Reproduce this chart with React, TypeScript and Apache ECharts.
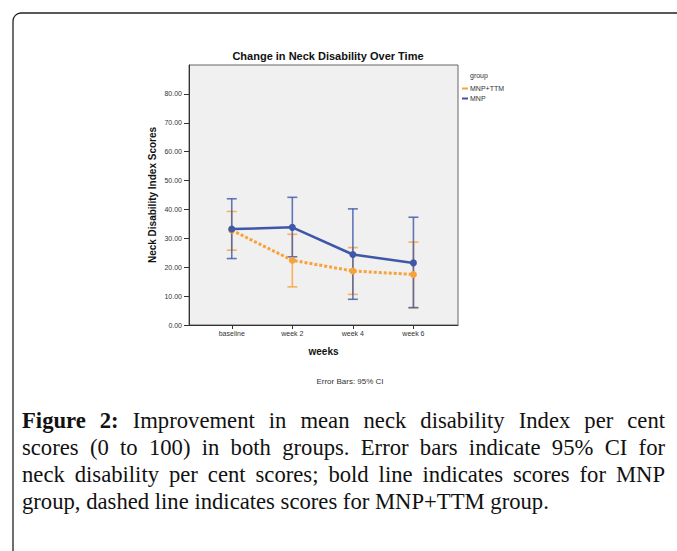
import React, { useEffect, useRef } from "react";
import * as echarts from "echarts";

const categories = ["baseline", "week 2", "week 4", "week 6"];
const yTicks = [0, 10, 20, 30, 40, 50, 60, 70, 80];

const ttmMean = [32.8, 22.4, 18.7, 17.5];
const ttmLow = [25.9, 13.2, 10.6, 6.0];
const ttmHigh = [39.3, 31.4, 26.8, 28.7];

const mnpMean = [33.2, 33.8, 24.4, 21.5];
const mnpLow = [23.0, 23.6, 8.9, 6.0];
const mnpHigh = [43.7, 44.2, 40.2, 37.3];

const captionLines = [
  "Figure 2: Improvement in mean neck disability Index per cent",
  "scores (0 to 100) in both groups. Error bars indicate 95% CI for",
  "neck disability per cent scores; bold line indicates scores for MNP",
  "group, dashed line indicates scores for MNP+TTM group.",
];

const ORANGE = "#f7a23a";
const BLUE = "#3f57a8";
const SERIF = '"Liberation Serif", "Times New Roman", serif';
const SANS = '"Liberation Sans", Arial, sans-serif';

function buildCaption(): any[] {
  const canvas = document.createElement("canvas");
  const ctx = canvas.getContext("2d") as CanvasRenderingContext2D;
  const measure = (t: string, size: number, bold: boolean) => {
    ctx.font = `${bold ? "bold " : ""}${size}px ${SERIF}`;
    return ctx.measureText(t).width;
  };
  const base = 20;
  const w4 = measure(captionLines[3], base, false);
  const size = Math.max(14, Math.min(24, (base * 527) / w4));
  const left = 22;
  const right = 665;
  const ys = [420, 447, 474, 501];
  const out: any[] = [];
  captionLines.forEach((line, li) => {
    const words = line.split(" ");
    const items = words.map((w, wi) => {
      const bold = li === 0 && wi < 2;
      return { w, bold, width: measure(w, size, bold) };
    });
    const sum = items.reduce((a, b) => a + b.width, 0);
    const justify = li < captionLines.length - 1;
    const gap = justify ? (right - left - sum) / (items.length - 1) : measure(" ", size, false);
    let x = left;
    items.forEach((it) => {
      out.push({
        type: "text",
        x,
        y: ys[li],
        silent: true,
        style: {
          text: it.w,
          fill: "#111111",
          font: `${it.bold ? "bold " : ""}${size}px ${SERIF}`,
          textAlign: "left",
          textVerticalAlign: "middle",
        },
      });
      x += it.width + gap;
    });
  });
  return out;
}

function errorBarRender(color: string) {
  return (params: any, api: any) => {
    const x = api.value(0);
    const lo = api.coord([x, api.value(1)]);
    const hi = api.coord([x, api.value(2)]);
    const half = 5;
    const style = { stroke: color, lineWidth: 1.6, opacity: 0.8 };
    return {
      type: "group",
      children: [
        { type: "line", shape: { x1: lo[0], y1: lo[1], x2: hi[0], y2: hi[1] }, style },
        { type: "line", shape: { x1: lo[0] - half, y1: lo[1], x2: lo[0] + half, y2: lo[1] }, style },
        { type: "line", shape: { x1: hi[0] - half, y1: hi[1], x2: hi[0] + half, y2: hi[1] }, style },
      ],
    };
  };
}

export default function App() {
  const ref = useRef<HTMLDivElement>(null);
  useEffect(() => {
    if (!ref.current) return;
    const chart = echarts.init(ref.current, undefined, { renderer: "svg" });
    const idx = categories.map((_, i) => i);
    const option: any = {
      animation: false,
      backgroundColor: "#ffffff",
      title: {
        text: "Change in Neck Disability Over Time",
        left: 323,
        top: 45,
        textAlign: "center",
        textStyle: { fontFamily: SANS, fontSize: 11, fontWeight: "bold", color: "#111" },
      },
      legend: {
        orient: "vertical",
        left: 457,
        top: 80,
        itemWidth: 6,
        itemHeight: 2,
        itemGap: 3,
        icon: "rect",
        data: ["MNP+TTM", "MNP"],
        textStyle: { fontFamily: SANS, fontSize: 7, color: "#333", padding: [0, 0, 0, -3] },
      },
      grid: {
        left: 189,
        top: 65,
        width: 269,
        height: 260,
        show: true,
        backgroundColor: "#f0f0f0",
        borderColor: "#666",
        borderWidth: 1,
      },
      xAxis: {
        type: "value",
        min: -0.706,
        max: 3.736,
        name: "weeks",
        nameLocation: "middle",
        nameGap: 21,
        nameTextStyle: { fontFamily: SANS, fontSize: 10, fontWeight: "bold", color: "#111" },
        axisLine: { show: true, onZero: false, lineStyle: { color: "#333" } },
        axisTick: { show: true, length: 4, customValues: idx, lineStyle: { color: "#333" } },
        axisLabel: {
          customValues: idx,
          margin: 5,
          fontFamily: SANS,
          fontSize: 7,
          color: "#333",
          formatter: (v: number) => categories[Math.round(v)] ?? "",
        },
        splitLine: { show: false },
      },
      yAxis: {
        type: "value",
        min: 0,
        max: 90,
        name: "Neck Disability Index Scores",
        nameLocation: "middle",
        nameGap: 32,
        nameTextStyle: { fontFamily: SANS, fontSize: 10, fontWeight: "bold", color: "#111" },
        axisLine: { show: true, onZero: false, lineStyle: { color: "#333" } },
        axisTick: { show: true, length: 5, customValues: yTicks, lineStyle: { color: "#333" } },
        axisLabel: {
          customValues: yTicks,
          margin: 7,
          fontFamily: SANS,
          fontSize: 7,
          color: "#333",
          formatter: (v: number) => v.toFixed(2),
        },
        splitLine: { show: false },
      },
      graphic: [
        {
          type: "rect",
          shape: { x: 13, y: 13, width: 720, height: 620, r: 8 },
          style: { fill: "none", stroke: "#222", lineWidth: 1.3 },
          silent: true,
        },
        {
          type: "text",
          x: 470,
          y: 75,
          silent: true,
          style: { text: "group", font: `7px ${SANS}`, fill: "#333333", textVerticalAlign: "middle" },
        },
        {
          type: "text",
          x: 350,
          y: 381,
          silent: true,
          style: {
            text: "Error Bars: 95% CI",
            font: `8px ${SANS}`,
            fill: "#333333",
            textAlign: "center",
            textVerticalAlign: "middle",
          },
        },
        ...buildCaption(),
      ],
      series: [
        {
          type: "custom",
          name: "MNP+TTM",
          renderItem: errorBarRender(ORANGE),
          data: idx.map((i) => [i, ttmLow[i], ttmHigh[i]]),
          encode: { x: 0, y: [1, 2] },
          itemStyle: { color: ORANGE },
          silent: true,
        },
        {
          type: "line",
          name: "MNP+TTM",
          data: idx.map((i) => [i, ttmMean[i]]),
          symbol: "circle",
          symbolSize: 7,
          itemStyle: { color: ORANGE },
          lineStyle: { color: ORANGE, width: 3, type: [3, 2] },
        },
        {
          type: "custom",
          name: "MNP",
          renderItem: errorBarRender(BLUE),
          data: idx.map((i) => [i, mnpLow[i], mnpHigh[i]]),
          encode: { x: 0, y: [1, 2] },
          itemStyle: { color: BLUE },
          silent: true,
        },
        {
          type: "line",
          name: "MNP",
          data: idx.map((i) => [i, mnpMean[i]]),
          symbol: "circle",
          symbolSize: 7,
          itemStyle: { color: BLUE },
          lineStyle: { color: BLUE, width: 2.5 },
        },
      ],
    };
    chart.setOption(option);
    return () => chart.dispose();
  }, []);
  return (
    <div
      ref={ref}
      style={{ position: "fixed", left: 0, top: 0, width: 677, height: 551, background: "#fff" }}
    />
  );
}
